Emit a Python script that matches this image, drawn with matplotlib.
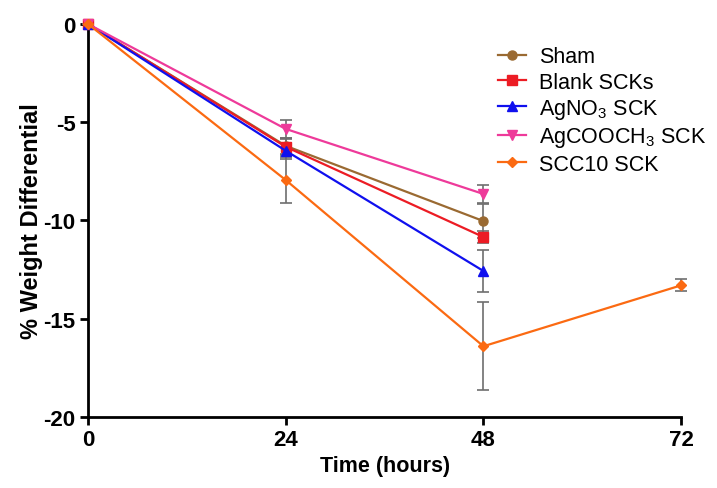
import numpy as np
import matplotlib.pyplot as plt

plt.rcParams['font.family'] = ['Liberation Sans', 'DejaVu Sans']
plt.rcParams['mathtext.fontset'] = 'custom'
plt.rcParams['mathtext.rm'] = 'Liberation Sans'
plt.rcParams['mathtext.it'] = 'Liberation Sans:italic'
plt.rcParams['mathtext.bf'] = 'Liberation Sans:bold'
plt.rcParams['axes.unicode_minus'] = False

# datos
horas = [0, 24, 48]
horas_scc = [0, 24, 48, 72]

sham = [0, -6.2, -10.03]
sham_err = [0, 0.4, 0.87]
blank = [0, -6.25, -10.84]
blank_err = [0, 0.4, 0.3]
agno3 = [0, -6.45, -12.57]
agno3_err = [0, 0.4, 1.05]
agcooch3 = [0, -5.34, -8.65]
agcooch3_err = [0, 0.47, 0.45]
scc10 = [0, -7.94, -16.4, -13.3]
scc10_err = [0, 1.15, 2.25, 0.3]

series = [
    ('Sham', horas, sham, sham_err, '#9a6a32', 'o'),
    ('Blank SCKs', horas, blank, blank_err, '#ec1c24', 's'),
    ('AgNO$_3$ SCK', horas, agno3, agno3_err, '#1010ee', '^'),
    ('AgCOOCH$_3$ SCK', horas, agcooch3, agcooch3_err, '#ee3a9a', 'v'),
    ('SCC10 SCK', horas_scc, scc10, scc10_err, '#fb6a12', 'D'),
]

fig = plt.figure(figsize=(7.17, 4.89), dpi=100)
ax = fig.add_axes([0.1227, 0.1452, 0.8273, 0.8037])

for nombre, x, y, err, color, mk in series:
    ax.errorbar(x, y, yerr=err, fmt='none', ecolor='#6e6e6e', elinewidth=1.2,
                capsize=4.5, capthick=1.2, zorder=2, clip_on=False)
for nombre, x, y, err, color, mk in series:
    ms = 5.5 if mk == 'D' else 6.5
    ax.plot(x, y, color=color, marker=mk, ms=ms, lw=1.6, label=nombre,
            zorder=3, clip_on=False)

ax.set_xlim(0, 72)
ax.set_ylim(-20, 0)
ax.set_xticks([0, 24, 48, 72])
ax.set_yticks([0, -5, -10, -15, -20])
for s in ['top', 'right']:
    ax.spines[s].set_visible(False)
for s in ['left', 'bottom']:
    ax.spines[s].set_linewidth(2.0)
ax.tick_params(width=2.0, length=6, direction='out', labelsize=16, pad=3)
for lab in ax.get_xticklabels() + ax.get_yticklabels():
    lab.set_fontweight('bold')

ax.set_xlabel('Time (hours)', fontsize=15.5, fontweight='bold', labelpad=3)
ax.set_ylabel('% Weight Differential', fontsize=17, fontweight='bold', labelpad=0)

ax.legend(loc='upper left', bbox_to_anchor=(0.677, 0.965), frameon=False,
          fontsize=15.5, handlelength=1.3, handletextpad=0.6, labelspacing=0.2,
          borderaxespad=0)

fig.savefig('out.png', dpi=100)
